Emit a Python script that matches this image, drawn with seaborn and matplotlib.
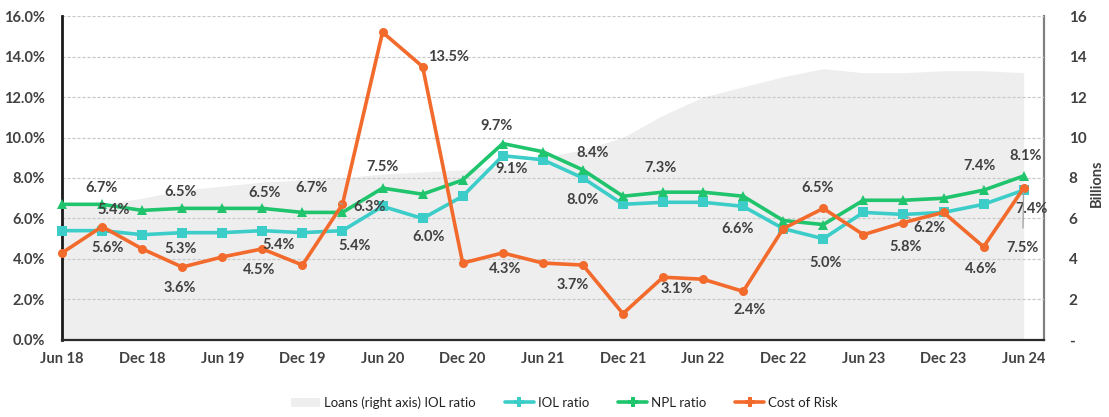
import matplotlib
matplotlib.use("Agg")
import matplotlib.pyplot as plt
from matplotlib.patches import Patch
from matplotlib.lines import Line2D
from matplotlib.ticker import FixedLocator, FuncFormatter
import numpy as np
import pandas as pd
import seaborn as sns

# ---- data -----------------------------------------------------------------
quarters = ["Jun 18", "Sep 18", "Dec 18", "Mar 19", "Jun 19", "Sep 19", "Dec 19",
            "Mar 20", "Jun 20", "Sep 20", "Dec 20", "Mar 21", "Jun 21", "Sep 21",
            "Dec 21", "Mar 22", "Jun 22", "Sep 22", "Dec 22", "Mar 23", "Jun 23",
            "Sep 23", "Dec 23", "Mar 24", "Jun 24"]
loans_bn = [6.6, 6.7, 7.0, 7.4, 7.6, 7.8, 7.9, 8.0, 8.2, 8.3, 8.4, 8.6, 9.0,
            9.4, 10.0, 11.1, 12.0, 12.5, 13.0, 13.4, 13.2, 13.2, 13.3, 13.3, 13.2]
iol_ratio = [5.4, 5.4, 5.2, 5.3, 5.3, 5.4, 5.3, 5.4, 6.6, 6.0, 7.1, 9.1, 8.9,
             8.0, 6.7, 6.8, 6.8, 6.6, 5.5, 5.0, 6.3, 6.2, 6.3, 6.7, 7.4]
npl_ratio = [6.7, 6.7, 6.4, 6.5, 6.5, 6.5, 6.3, 6.3, 7.5, 7.2, 7.9, 9.7, 9.3,
             8.4, 7.1, 7.3, 7.3, 7.1, 5.9, 5.7, 6.9, 6.9, 7.0, 7.4, 8.1]
cost_of_risk = [4.3, 5.6, 4.5, 3.6, 4.1, 4.5, 3.7, 6.7, 15.2, 13.5, 3.8, 4.3, 3.8,
                3.7, 1.3, 3.1, 3.0, 2.4, 5.5, 6.5, 5.2, 5.8, 6.3, 4.6, 7.5]
tick_labels = ["Jun 18", "Dec 18", "Jun 19", "Dec 19", "Jun 20", "Dec 20", "Jun 21",
               "Dec 21", "Jun 22", "Dec 22", "Jun 23", "Dec 23", "Jun 24"]

series_names = ["IOL ratio", "NPL ratio", "Cost of Risk"]
series_values = [iol_ratio, npl_ratio, cost_of_risk]

df = pd.DataFrame({"pos": np.arange(len(quarters)), "quarter": quarters,
                   "loans": loans_bn})
long = pd.concat([pd.DataFrame({"pos": np.arange(len(quarters)), "value": v,
                                "series": n})
                  for n, v in zip(series_names, series_values)],
                 ignore_index=True)

# ---- style ----------------------------------------------------------------
sns.set_theme(style="white")
plt.rcParams["font.family"] = ["Lato", "DejaVu Sans"]

palette = {"IOL ratio": "#3DCDC9", "NPL ratio": "#1FC46C", "Cost of Risk": "#F26A2C"}
markers = {"IOL ratio": "s", "NPL ratio": "^", "Cost of Risk": "o"}
text_col = "#404040"
area_col = "#EEEEEE"

fig = plt.figure(figsize=(11.09, 4.17), dpi=100)
ax = fig.add_axes([0.0559, 0.1847, 0.8852, 0.7769])
ax2 = ax.twinx()

# loans area on the right axis, behind the ratio lines
ax2.fill_between(df["pos"], df["loans"], 0, color=area_col, linewidth=0, zorder=1)
ax2.set_ylim(0, 16)
ax.set_zorder(ax2.get_zorder() + 1)
ax.patch.set_visible(False)

for name in series_names:
    sub = long[long["series"] == name]
    sns.lineplot(data=sub, x="pos", y="value", ax=ax, color=palette[name],
                 marker=markers[name], markersize=6.5, markeredgewidth=0,
                 linewidth=2.6, legend=False, clip_on=False, zorder=3)

ax.set_xlim(0, 24.5)
ax.set_ylim(0, 16)
ax.set_xlabel("")
ax.set_ylabel("")

# grid and axes
ax.yaxis.set_major_locator(FixedLocator(np.arange(0, 17, 2)))
ax.yaxis.set_major_formatter(FuncFormatter(lambda v, p: f"{v:.1f}%"))
ax.grid(axis="y", color="#C8C8C8", linestyle=(0, (2.5, 1.5)), linewidth=0.9)
ax.grid(axis="x", visible=False)
ax.set_xticks(np.arange(0, 25, 2))
ax.set_xticklabels(tick_labels)
ax.tick_params(axis="both", length=0, colors=text_col)
ax.tick_params(axis="y", pad=12)
ax.tick_params(axis="x", pad=9)
for lab in ax.get_yticklabels() + ax.get_xticklabels():
    lab.set_fontweight("bold")
    lab.set_fontsize(10.5)

ax2.yaxis.set_major_locator(FixedLocator(np.arange(0, 17, 2)))
ax2.yaxis.set_major_formatter(FuncFormatter(lambda v, p: "-" if v == 0 else f"{v:.0f}"))
ax2.tick_params(axis="y", length=0, pad=18, colors=text_col)
for lab in ax2.get_yticklabels():
    lab.set_fontweight("bold")
    lab.set_fontsize(11)
ax2.set_ylabel("")
fig.text(1097 / 1109, 0.561, "Billions", rotation=90, ha="center", va="center",
         fontsize=10.5, fontweight="bold", color=text_col)

for a in (ax, ax2):
    a.spines["top"].set_visible(False)
ax.spines["left"].set_color("#1A1A1A")
ax.spines["left"].set_linewidth(2.0)
ax.spines["bottom"].set_color("#2A2A2A")
ax.spines["bottom"].set_linewidth(1.6)
ax.spines["right"].set_visible(False)
ax2.spines["left"].set_visible(False)
ax2.spines["bottom"].set_visible(False)
ax2.spines["right"].set_color("#808080")
ax2.spines["right"].set_linewidth(1.6)

# ---- data labels: (series, index, dx px, dy px, leader) ------------------------
label_spec = [
    ("NPL ratio", 1, 0, 16, False), ("IOL ratio", 1, 12, 21, False),
    ("NPL ratio", 3, -2, 16, False), ("NPL ratio", 5, 2, 15, False),
    ("Cost of Risk", 7, -31, 16, True), ("NPL ratio", 7, 27, 5, False),
    ("NPL ratio", 8, 0, 21, False), ("Cost of Risk", 1, 6, -21, False),
    ("IOL ratio", 3, -2, -16, False), ("Cost of Risk", 3, -2, -21, False),
    ("IOL ratio", 5, 16, -14, False), ("Cost of Risk", 5, -3, -21, False),
    ("IOL ratio", 7, 12, -15, False), ("Cost of Risk", 9, 26, 10, False),
    ("IOL ratio", 9, 6, -19, False), ("NPL ratio", 11, -6, 18, False),
    ("IOL ratio", 11, 9, -13, False), ("Cost of Risk", 11, 2, -16, False),
    ("NPL ratio", 13, 10, 17, False), ("IOL ratio", 13, 0, -22, False),
    ("Cost of Risk", 13, -10, -20, False), ("NPL ratio", 15, -2, 24, False),
    ("Cost of Risk", 15, 14, -12, False), ("IOL ratio", 17, -6, -23, False),
    ("Cost of Risk", 17, 7, -19, False), ("Cost of Risk", 19, -6, 20, False),
    ("IOL ratio", 19, 2, -24, False), ("Cost of Risk", 21, 2, -24, False),
    ("IOL ratio", 21, 26, -14, True), ("NPL ratio", 23, -4, 24, True),
    ("Cost of Risk", 23, -2, -22, False), ("NPL ratio", 24, 2, 20, False),
    ("IOL ratio", 24, 8, -19, False), ("Cost of Risk", 24, -1, -60, True),
]
values_by_name = dict(zip(series_names, series_values))
px = 72.0 / fig.dpi
for name, i, dx, dy, leader in label_spec:
    v = values_by_name[name][i]
    kw = dict(xy=(i, v), xytext=(dx * px, dy * px), textcoords="offset points",
              ha="center", va="center", fontsize=10.5, fontweight="bold",
              color=text_col, zorder=6, annotation_clip=False)
    if leader:
        kw["arrowprops"] = dict(arrowstyle="-", color="#A0A0A0", lw=0.9,
                                shrinkA=7, shrinkB=3)
    ax.annotate(f"{v:.1f}%", **kw)

# ---- legend ------------------------------------------------------------------
handles = [Patch(facecolor=area_col, edgecolor="none")]
for name in series_names:
    handles.append(Line2D([0], [0], color=palette[name], lw=2.6,
                          marker="P", markersize=7, markeredgewidth=0))
labels = ["Loans (right axis) IOL ratio"] + series_names
leg = fig.legend(handles, labels, loc="center", bbox_to_anchor=(0.509, 0.034),
                 ncol=4, frameon=False, fontsize=9.5, handlelength=2.2,
                 handletextpad=0.3, columnspacing=2.2)
for t in leg.get_texts():
    t.set_color("#222222")

fig.savefig("out.png", dpi=100)
